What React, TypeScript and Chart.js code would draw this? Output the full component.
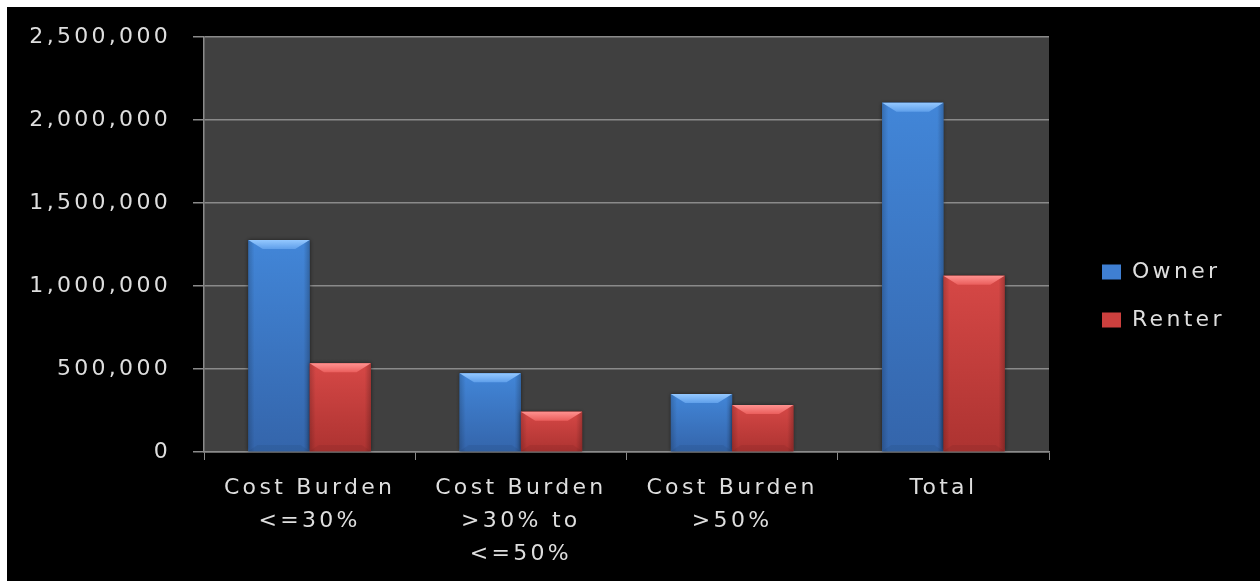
import React, { useEffect, useRef } from "react";
import { Chart, registerables } from "chart.js";

Chart.register(...registerables);

const categories: (string | string[])[] = [
  ["Cost Burden", "<=30%"],
  ["Cost Burden", ">30% to", "<=50%"],
  ["Cost Burden", ">50%"],
  "Total",
];
const seriesNames = ["Owner", "Renter"];
const ownerValues = [1277000, 474000, 349000, 2104000];
const renterValues = [534000, 243000, 283000, 1062000];
const yTickValues = [0, 500000, 1000000, 1500000, 2000000, 2500000];

const FONT_FAMILY = "'DejaVu Sans', 'Open Sans', sans-serif";
const TEXT_COLOR = "#dedede";
const GRID_COLOR = "#8a8a8a";
const LETTER_SPACING = "3.3px";

const palettes = [
  {
    base: "#3f7fd2",
    bodyTop: "#4286d8",
    bodyBottom: "#3465ab",
    bevelTop: "#94c8ff",
    bevelBottom: "#5f9fea",
  },
  {
    base: "#cc403e",
    bodyTop: "#d64846",
    bodyBottom: "#ad3331",
    bevelTop: "#ff9290",
    bevelBottom: "#ea5e5c",
  },
];

const bgPlugin = {
  id: "bgPlugin",
  beforeUpdate(chart: any) {
    chart.ctx.letterSpacing = LETTER_SPACING;
  },
  beforeLayout(chart: any) {
    const lg: any = chart.legend;
    if (lg && !lg.__patched) {
      const orig = lg.fit.bind(lg);
      lg.fit = function () {
        orig();
        this.width = 211;
      };
      lg.__patched = true;
    }
  },
  afterLayout(chart: any) {
    const lg: any = chart.legend;
    if (lg) {
      lg.left += 27;
      lg.right += 27;
      lg.top -= 13;
      lg.bottom -= 13;
    }
  },
  beforeDraw(chart: any) {
    const ctx = chart.ctx;
    ctx.letterSpacing = LETTER_SPACING;
    ctx.save();
    ctx.fillStyle = "#000000";
    ctx.fillRect(0, 0, chart.width, chart.height);
    const a = chart.chartArea;
    ctx.fillStyle = "#404040";
    ctx.fillRect(a.left, a.top, a.right - a.left, a.bottom - a.top);
    ctx.restore();
  },
  afterDatasetsDraw(chart: any) {
    const ctx = chart.ctx;
    chart.data.datasets.forEach((_ds: any, di: number) => {
      const meta = chart.getDatasetMeta(di);
      const p = palettes[di];
      meta.data.forEach((bar: any) => {
        const { x, y, base, width } = bar.getProps(["x", "y", "base", "width"], true);
        const l = x - width / 2;
        const r = x + width / 2;
        const t = y;
        const b = base;
        const h = b - t;
        const bev = Math.min(9, h / 3);
        ctx.save();
        ctx.shadowColor = "rgba(0,0,0,0.55)";
        ctx.shadowBlur = 4;
        const g = ctx.createLinearGradient(0, t, 0, b);
        g.addColorStop(0, p.bodyTop);
        g.addColorStop(1, p.bodyBottom);
        ctx.fillStyle = g;
        ctx.fillRect(l, t, width, h);
        ctx.shadowColor = "transparent";
        ctx.shadowBlur = 0;
        const hg = ctx.createLinearGradient(l, 0, r, 0);
        hg.addColorStop(0, "rgba(0,0,0,0.18)");
        hg.addColorStop(0.1, "rgba(0,0,0,0)");
        hg.addColorStop(0.9, "rgba(0,0,0,0)");
        hg.addColorStop(1, "rgba(0,0,0,0.22)");
        ctx.fillStyle = hg;
        ctx.fillRect(l, t, width, h);
        ctx.beginPath();
        ctx.moveTo(l, b);
        ctx.lineTo(r, b);
        ctx.lineTo(r - bev, b - bev * 0.7);
        ctx.lineTo(l + bev, b - bev * 0.7);
        ctx.closePath();
        ctx.fillStyle = "rgba(0,0,0,0.06)";
        ctx.fill();
        ctx.beginPath();
        ctx.moveTo(l, t);
        ctx.lineTo(r, t);
        ctx.lineTo(r - bev * 1.6, t + bev);
        ctx.lineTo(l + bev * 1.6, t + bev);
        ctx.closePath();
        const tg = ctx.createLinearGradient(0, t, 0, t + bev);
        tg.addColorStop(0, p.bevelTop);
        tg.addColorStop(1, p.bevelBottom);
        ctx.fillStyle = tg;
        ctx.fill();
        ctx.restore();
      });
    });
  },
};

export default function App() {
  const canvasRef = useRef<HTMLCanvasElement | null>(null);

  useEffect(() => {
    const canvas = canvasRef.current;
    if (!canvas) return;
    const font = { family: FONT_FAMILY, size: 22, lineHeight: 1.5 };
    const chart = new Chart(canvas, {
      type: "bar",
      data: {
        labels: categories as any,
        datasets: [
          {
            label: seriesNames[0],
            data: ownerValues,
            backgroundColor: palettes[0].base,
            categoryPercentage: 0.58,
            barPercentage: 1,
          },
          {
            label: seriesNames[1],
            data: renterValues,
            backgroundColor: palettes[1].base,
            categoryPercentage: 0.58,
            barPercentage: 1,
          },
        ],
      },
      options: {
        animation: false,
        responsive: false,
        maintainAspectRatio: false,
        layout: { padding: { top: 30, left: 0, right: 0, bottom: 0 } },
        plugins: {
          tooltip: { enabled: false },
          legend: {
            position: "right",
            labels: {
              color: TEXT_COLOR,
              font,
              boxWidth: 19,
              boxHeight: 15,
              padding: 26,
            },
          },
        },
        scales: {
          x: {
            grid: {
              display: true,
              drawOnChartArea: false,
              drawTicks: true,
              tickLength: 8,
              color: GRID_COLOR,
              offset: true,
            },
            border: { color: GRID_COLOR, width: 1.5 },
            ticks: { color: TEXT_COLOR, font, padding: 12, maxRotation: 0, autoSkip: false },
            afterFit(scale: any) {
              scale.height = 129;
              scale.paddingLeft = 0;
              scale.paddingRight = 0;
            },
          },
          y: {
            min: 0,
            max: 2500000,
            afterBuildTicks(scale: any) {
              scale.ticks = yTickValues.map((v) => ({ value: v }));
            },
            grid: { color: GRID_COLOR, tickLength: 11, lineWidth: 1.5 },
            border: { color: GRID_COLOR, width: 1.5 },
            ticks: {
              color: TEXT_COLOR,
              font,
              padding: 22,
              callback: (v: any) => Number(v).toLocaleString("en-US"),
            },
            afterFit(scale: any) {
              scale.width = 197;
              scale.paddingTop = 0;
              scale.paddingBottom = 0;
            },
          },
        },
      },
      plugins: [bgPlugin],
    });
    return () => chart.destroy();
  }, []);

  return (
    <div style={{ position: "fixed", left: 7, top: 7, width: 1253, height: 574, background: "#000" }}>
      <canvas ref={canvasRef} width={1253} height={574} style={{ display: "block" }} />
    </div>
  );
}
